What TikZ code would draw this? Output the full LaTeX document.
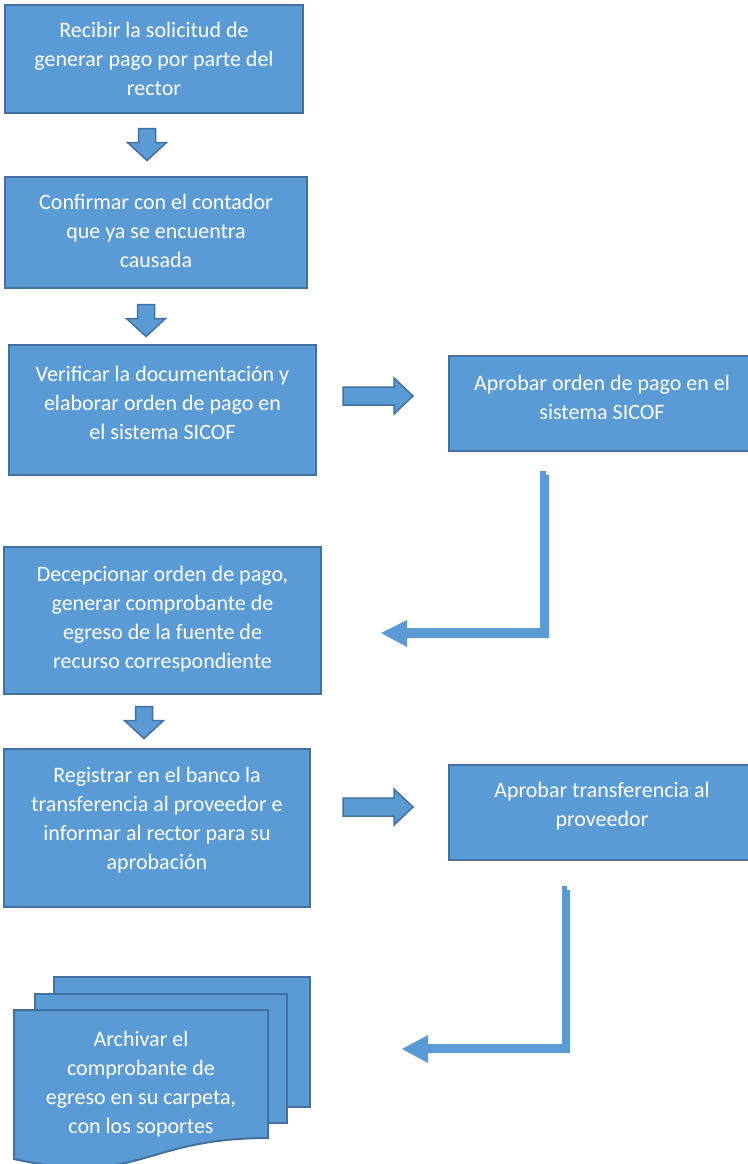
\documentclass[tikz,border=0pt]{standalone}
\usepackage{fontspec}
\setmainfont{Carlito}
\usetikzlibrary{calc}
\definecolor{boxfill}{HTML}{5B9BD5}
\definecolor{boxline}{HTML}{41719C}
\begin{document}
\begin{tikzpicture}[x=1pt,y=-1pt,
  box/.style={draw=boxline, line width=2pt, fill=boxfill, inner sep=0pt, rectangle},
  txt/.style={text=white, align=center, font=\fontsize{22}{29}\selectfont, inner sep=0pt},
  blockarrow/.style={draw=boxline, line width=1.5pt, fill=boxfill, line join=miter},
  bentarrow/.style={fill=boxfill},
  downarrow/.pic={\draw[blockarrow] (-8.5,-16) -- (8.5,-16) -- (8.5,-2) -- (19.5,-2) -- (0,16) -- (-19.5,-2) -- (-8.5,-2) -- cycle;},
  rightarrow/.pic={\draw[blockarrow] (-35,-9) -- (16,-9) -- (16,-18) -- (35,0) -- (16,18) -- (16,9) -- (-35,9) -- cycle;}
]
\useasboundingbox (0,0) rectangle (747,1164);
\fill[white] (0,0) rectangle (747,1164);

% boxes
\node[box, minimum width=298pt, minimum height=108pt] (b1) at (154,59) {};
\node[txt] (t1) at (b1.center) {Recibir la solicitud de\\generar pago por parte del\\rector};

\node[box, minimum width=302pt, minimum height=111pt] (b2) at (156,232.5) {};
\node[txt] (t2) at ([yshift=2pt]b2.center) {Confirmar con el contador\\que ya se encuentra\\causada};

\node[box, minimum width=307pt, minimum height=130pt] (b3) at (162.5,410) {};
\node[txt] (t3) at ([yshift=7pt]b3.center) {Verificar la documentación y\\elaborar orden de pago en\\el sistema SICOF};

\node[box, minimum width=306pt, minimum height=95pt] (b4) at (602,403.5) {};
\node[txt] (t4) at ([yshift=6pt]b4.center) {Aprobar orden de pago en el\\sistema SICOF};

\node[box, minimum width=317pt, minimum height=147pt] (b5) at (162.5,620.5) {};
\node[txt] (t5) at ([yshift=1pt]b5.center) {Decepcionar orden de pago,\\generar comprobante de\\egreso de la fuente de\\recurso correspondiente};

\node[box, minimum width=306pt, minimum height=158pt] (b6) at (157,828) {};
\node[txt] (t6) at ([yshift=8pt]b6.center) {Registrar en el banco la\\transferencia al proveedor e\\informar al rector para su\\aprobación};

\node[box, minimum width=306pt, minimum height=95pt] (b7) at (602,812.5) {};
\node[txt] (t7) at ([yshift=6pt]b7.center) {Aprobar transferencia al\\proveedor};

% multi-document
\draw[box] (54,977) rectangle (310,1107);
\draw[box] (35,994) rectangle (287,1123);
\draw[box] (14,1010) -- (268,1010) -- (268,1138) .. controls (141,1138) and (141,1187) .. (14,1159) -- cycle;
\coordinate (d8) at (141,1084);
\node[txt] (t8) at (d8) {Archivar el\\comprobante de\\egreso en su carpeta,\\con los soportes};

% block arrows
\pic at (147,144.5) {downarrow};
\pic at (146,320.5) {downarrow};
\pic at (144,722.5) {downarrow};
\pic at (378,396) {rightarrow};
\pic at (378,807) {rightarrow};

% bent arrows
\coordinate (e1) at (544.5,471);
\coordinate (e2) at (566,886);
\fill[bentarrow] (540,471) -- (546,471) -- (546,475) -- (549,475) -- (549,638) -- (407,638) -- (407,647) -- (381,633) -- (407,620) -- (407,628) -- (540,628) -- cycle;
\fill[bentarrow] (562,886) -- (567,886) -- (567,890) -- (570,890) -- (570,1053) -- (428,1053) -- (428,1063) -- (402,1049) -- (428,1035) -- (428,1044) -- (562,1044) -- cycle;
\end{tikzpicture}
\end{document}
